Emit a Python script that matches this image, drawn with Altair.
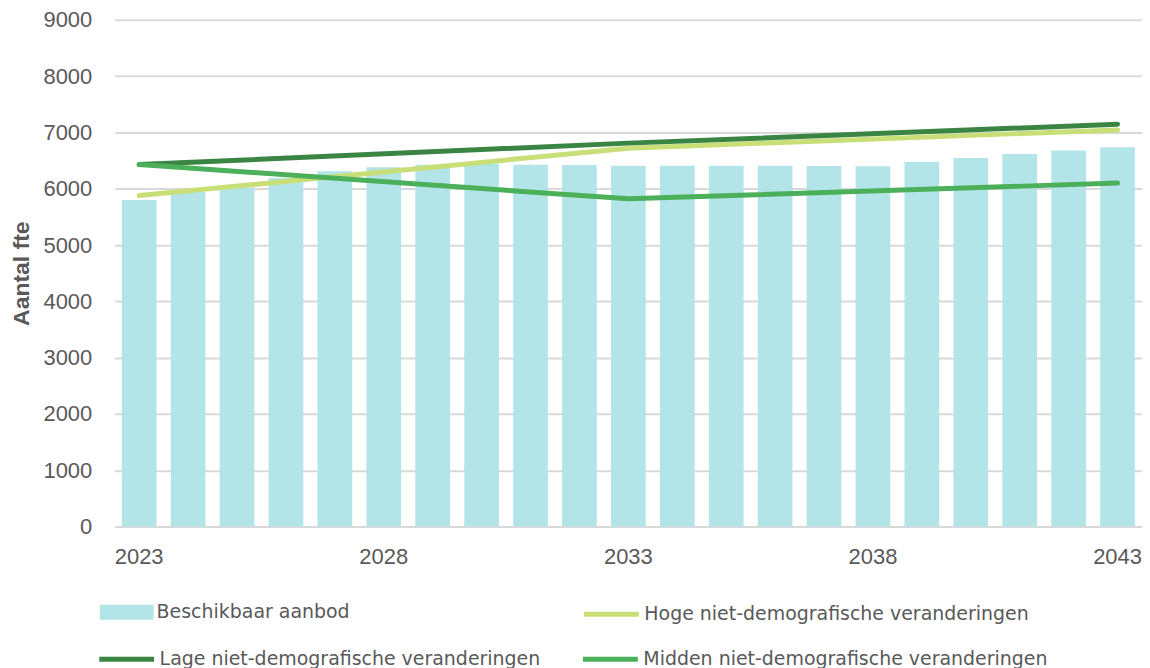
import altair as alt
import pandas as pd

years = list(range(2023, 2044))
aanbod = [5800, 5940, 6020, 6190, 6310, 6380, 6425, 6440, 6425, 6420, 6410,
          6410, 6410, 6410, 6405, 6400, 6480, 6545, 6615, 6680, 6735]

line_years = [2023, 2033, 2043]
hoge = [5880, 6720, 7045]
lage = [6430, 6810, 7145]
midden = [6430, 5820, 6100]

series = ["Beschikbaar aanbod",
          "Hoge niet-demografische veranderingen",
          "Lage niet-demografische veranderingen",
          "Midden niet-demografische veranderingen"]
colors = ["#B3E5E8", "#C8DF78", "#3B8544", "#4CAF5A"]
x_ticks = [2023, 2028, 2033, 2038, 2043]
y_ticks = list(range(0, 9001, 1000))

bars_df = pd.DataFrame({"year": years, "value": aanbod, "series": series[0]})
hoge_df = pd.DataFrame({"year": line_years, "value": hoge, "series": series[1]})
low_mid_df = pd.concat([
    pd.DataFrame({"year": line_years, "value": lage, "series": series[2]}),
    pd.DataFrame({"year": line_years, "value": midden, "series": series[3]}),
], ignore_index=True)

label_color = "#595959"
grid_color = "#D9D9D9"

x_enc = alt.X("year:O",
              scale=alt.Scale(domain=years, paddingInner=0.29, paddingOuter=0.145),
              axis=alt.Axis(values=x_ticks, title=None, labelAngle=0, ticks=False,
                            tickSize=0, domain=True, domainColor=grid_color,
                            domainWidth=2, labelPadding=20, labelFont="Liberation Sans",
                            labelFontSize=22, labelColor=label_color))
y_enc = alt.Y("value:Q",
              scale=alt.Scale(domain=[0, 9000], nice=False),
              axis=alt.Axis(values=y_ticks, format="d", title="Aantal fte", ticks=False,
                            tickSize=0, domain=False, grid=True, gridColor=grid_color,
                            gridWidth=2, labelPadding=23, labelFont="Liberation Sans",
                            labelFontSize=22, labelColor=label_color,
                            titleFont="Liberation Sans", titleFontSize=23,
                            titleFontWeight="bold", titleColor=label_color,
                            titlePadding=10))

leg_common = dict(title=None, orient="none", direction="horizontal", padding=0,
                  labelFont="DejaVu Sans", labelFontSize=19, labelColor=label_color,
                  labelLimit=0, labelOffset=3)

bar_legend = alt.Legend(legendX=-15, legendY=567,
                        symbolType="M-1,-0.2778L1,-0.2778L1,0.2778L-1,0.2778Z",
                        symbolSize=2916, symbolStrokeWidth=0, **leg_common)
hoge_legend = alt.Legend(legendX=468, legendY=566, symbolType="stroke",
                         symbolSize=3025, symbolStrokeWidth=5, **leg_common)
lm_legend = alt.Legend(legendX=-18, legendY=611, symbolType="stroke", columns=2,
                       columnPadding=32, symbolSize=3025, symbolStrokeWidth=5,
                       **leg_common)

bars = alt.Chart(bars_df).mark_bar(opacity=1).encode(
    x=x_enc, y=y_enc,
    fill=alt.Fill("series:N", scale=alt.Scale(domain=[series[0]], range=[colors[0]]),
                  legend=bar_legend))

line_mark = dict(strokeWidth=5, strokeCap="round", strokeJoin="round")

hoge_line = alt.Chart(hoge_df).mark_line(**line_mark).encode(
    x=x_enc, y=y_enc,
    stroke=alt.Stroke("series:N", scale=alt.Scale(domain=[series[1]], range=[colors[1]]),
                      legend=hoge_legend),
    order=alt.Order("year:O"))

lm_lines = alt.Chart(low_mid_df).mark_line(**line_mark).encode(
    x=x_enc, y=y_enc,
    color=alt.Color("series:N", scale=alt.Scale(domain=series[2:], range=colors[2:]),
                    legend=lm_legend),
    order=alt.Order("year:O"))

chart = alt.layer(bars, hoge_line, lm_lines).resolve_scale(
    color="independent", fill="independent", stroke="independent"
).properties(
    width=1030, height=508,
    autosize=alt.AutoSizeParams(type="none"),
    padding={"left": 107, "top": 11, "right": 0, "bottom": 141},
    background="white",
).configure_view(stroke=None)

chart.save("out.html", embed_options={"renderer": "svg", "actions": False})
